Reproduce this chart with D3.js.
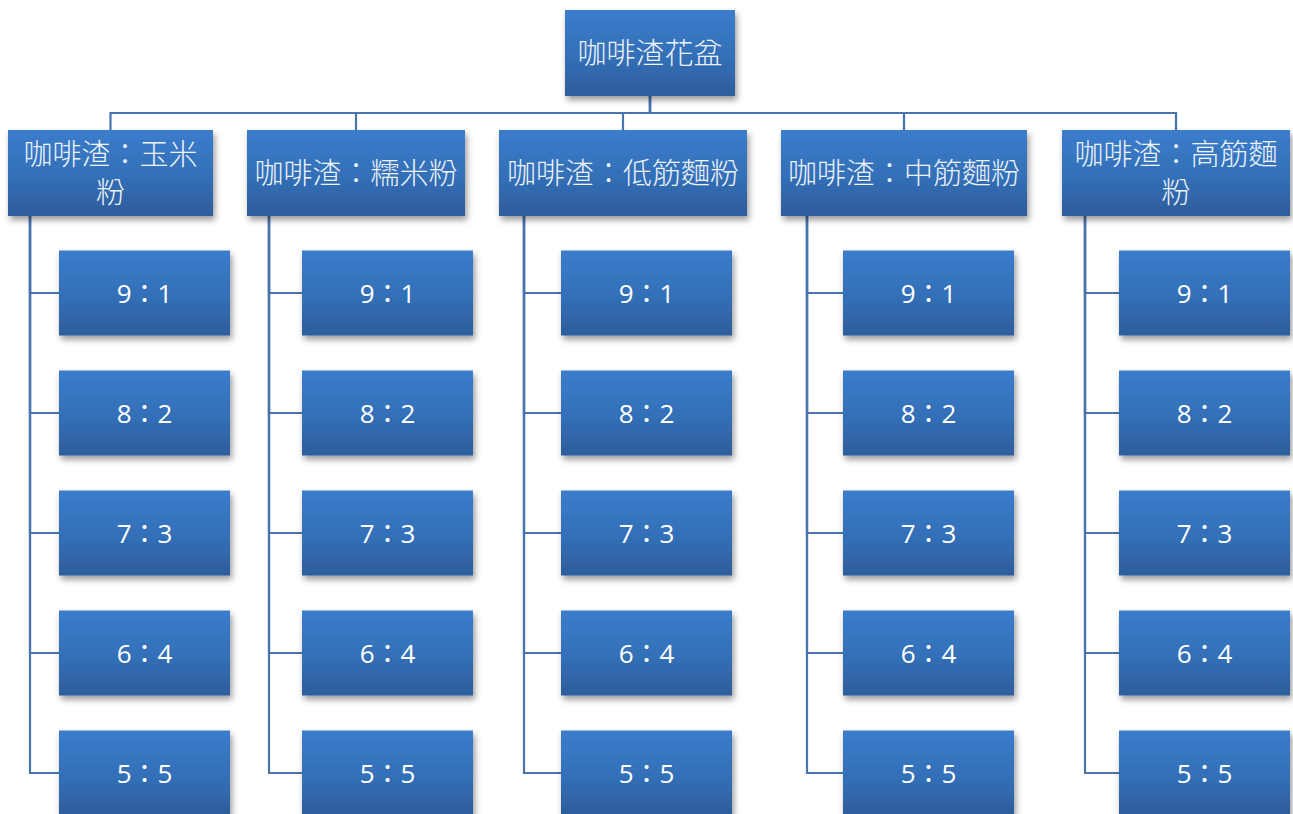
<!DOCTYPE html>
<html>
<head>
<meta charset="utf-8">
<script src="https://cdn.jsdelivr.net/npm/d3@7"></script>
<style>
  html, body { margin: 0; padding: 0; background: #ffffff; }
  svg { display: block; }
</style>
</head>
<body>
<svg id="chart" width="1293" height="814"></svg>
<script>
// Tree content
const rootLabel = "咖啡渣花盆";
const categories = ["咖啡渣：玉米粉", "咖啡渣：糯米粉", "咖啡渣：低筋麵粉", "咖啡渣：中筋麵粉", "咖啡渣：高筋麵粉"];
const ratios = ["9：1", "8：2", "7：3", "6：4", "5：5"];

// Layout
const W = 1293, H = 814;
const rootBox = { x: 565, y: 10, w: 170, h: 86 };
const busY = 113;
const levelY = 130, levelH = 86;
const colLeft  = [8, 247, 499, 781, 1062];
const colWidth = [205, 218, 248, 246, 228];
const spineX   = [30, 269, 524, 807, 1085];
const childX   = [59, 302, 561, 843, 1119];
const childW = 171, childH = 85;
const lineColor = "#4a74ad";

const svg = d3.select("#chart");
const defs = svg.append("defs");

const grad = defs.append("linearGradient")
  .attr("id", "boxFill").attr("x1", 0).attr("y1", 0).attr("x2", 0).attr("y2", 1);
grad.append("stop").attr("offset", "0%").attr("stop-color", "#3b7dcc");
grad.append("stop").attr("offset", "55%").attr("stop-color", "#336fb7");
grad.append("stop").attr("offset", "100%").attr("stop-color", "#2e5d9b");

const shadow = defs.append("filter").attr("id", "shadow")
  .attr("x", "-10%").attr("y", "-10%").attr("width", "130%").attr("height", "140%");
shadow.append("feDropShadow")
  .attr("dx", 2).attr("dy", 4).attr("stdDeviation", 3)
  .attr("flood-color", "#000").attr("flood-opacity", 0.4);

// Hierarchy
const tree = d3.hierarchy({
  name: rootLabel,
  children: categories.map(c => ({ name: c, children: ratios.map(r => ({ name: r })) }))
});

// Row centres for the ratio boxes
const rowY = d3.scalePoint().domain(ratios).range([293, 773]);

// Assign box geometry per node
tree.each(d => {
  if (d.depth === 0) {
    Object.assign(d, { bx: rootBox.x, by: rootBox.y, bw: rootBox.w, bh: rootBox.h });
  } else if (d.depth === 1) {
    const i = d.parent.children.indexOf(d);
    Object.assign(d, { col: i, bx: colLeft[i], by: levelY, bw: colWidth[i], bh: levelH });
  } else {
    const i = d.parent.col;
    const cy = rowY(d.data.name);
    Object.assign(d, { col: i, bx: childX[i], by: cy - childH / 2, bw: childW, bh: childH });
  }
});

const links = svg.append("g")
  .attr("fill", "none").attr("stroke", lineColor).attr("stroke-width", 2.2);

// Root to level 1: elbow via shared bus
tree.children.forEach(c => {
  const px = tree.bx + tree.bw / 2, cx = c.bx + c.bw / 2;
  links.append("path").attr("d",
    `M${px},${tree.by + tree.bh} V${busY} H${cx} V${c.by}`);
});

// Level 1 to ratios: left spine with horizontal ticks
tree.children.forEach(c => {
  const sx = spineX[c.col];
  c.children.forEach(k => {
    const ky = k.by + k.bh / 2;
    links.append("path").attr("d", `M${sx},${c.by + c.bh} V${ky} H${k.bx}`);
  });
});

// Boxes
const nodes = svg.append("g").selectAll("g")
  .data(tree.descendants())
  .join("g");

nodes.append("rect")
  .attr("x", d => d.bx).attr("y", d => d.by)
  .attr("width", d => d.bw).attr("height", d => d.bh)
  .attr("fill", "url(#boxFill)")
  .attr("filter", "url(#shadow)");

const cjkFont = "'Noto Sans CJK TC', 'Noto Sans CJK SC', sans-serif";
const numFont = "'Open Sans', 'Noto Sans CJK TC', sans-serif";

nodes.each(function(d) {
  const g = d3.select(this);
  const cx = d.bx + d.bw / 2, cy = d.by + d.bh / 2;
  if (d.depth === 2) {
    g.append("text")
      .attr("x", cx).attr("y", cy)
      .attr("text-anchor", "middle").attr("dominant-baseline", "central")
      .attr("fill", "#ffffff")
      .style("font-family", numFont).style("font-size", "26px")
      .text(d.data.name);
    return;
  }
  const fs = 29, pad = 6, lh = 38;
  // wrap characters to fit the box width
  const measure = g.append("text")
    .style("font-family", cjkFont).style("font-weight", 300).style("font-size", fs + "px");
  const lines = [];
  let cur = "";
  Array.from(d.data.name).forEach(ch => {
    measure.text(cur + ch);
    if (cur && measure.node().getComputedTextLength() > d.bw - 2 * pad) {
      lines.push(cur); cur = ch;
    } else cur += ch;
  });
  lines.push(cur);
  measure.remove();
  const y0 = cy - 2 - (lines.length - 1) * lh / 2;
  lines.forEach((ln, i) => {
    g.append("text")
      .attr("x", cx).attr("y", y0 + i * lh)
      .attr("text-anchor", "middle").attr("dominant-baseline", "central")
      .attr("fill", "#eef3fa")
      .style("font-family", cjkFont).style("font-weight", 300).style("font-size", fs + "px")
      .text(ln);
  });
});
</script>
</body>
</html>
